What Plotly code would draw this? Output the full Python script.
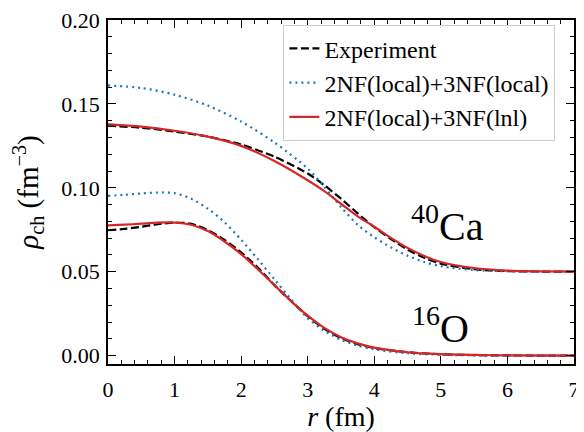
import plotly.graph_objects as go

r_ca = [0.0, 0.5, 1.0, 1.5, 2.0, 2.5, 3.0, 3.25, 3.5, 3.75, 4.0, 4.25, 4.5, 4.75, 5.0, 5.5, 6.0, 6.5, 7.0]
ca_exp = [0.1370, 0.1358, 0.1335, 0.1305, 0.1258, 0.1185, 0.1085, 0.1015, 0.0935, 0.0848, 0.0765, 0.0695, 0.0632, 0.0583, 0.0548, 0.0515, 0.0504, 0.0501, 0.0500]
ca_local = [0.1610, 0.1595, 0.1555, 0.1490, 0.1395, 0.1270, 0.1115, 0.1005, 0.0885, 0.0780, 0.0705, 0.0645, 0.0595, 0.0558, 0.0533, 0.0510, 0.0503, 0.0501, 0.0500]
ca_lnl = [0.1378, 0.1365, 0.1340, 0.1305, 0.1250, 0.1160, 0.1045, 0.0980, 0.0905, 0.0830, 0.0768, 0.0702, 0.0642, 0.0594, 0.0558, 0.0522, 0.0507, 0.0502, 0.0500]

r_o = [0.0, 0.25, 0.5, 0.75, 1.0, 1.25, 1.5, 1.75, 2.0, 2.25, 2.5, 2.75, 3.0, 3.25, 3.5, 3.75, 4.0, 4.5, 5.0, 5.5, 6.0, 7.0]
o_exp = [0.0747, 0.0755, 0.0768, 0.0783, 0.0793, 0.0785, 0.0748, 0.0690, 0.0615, 0.0525, 0.0420, 0.0325, 0.0235, 0.0160, 0.0105, 0.0068, 0.0045, 0.0020, 0.0008, 0.0003, 0.0001, 0.0]
o_local = [0.0952, 0.0958, 0.0966, 0.0972, 0.0968, 0.0935, 0.0875, 0.0795, 0.0690, 0.0575, 0.0455, 0.0335, 0.0222, 0.0148, 0.0095, 0.0060, 0.0037, 0.0014, 0.0005, 0.0002, 0.0001, 0.0]
o_lnl = [0.0776, 0.0780, 0.0786, 0.0792, 0.0793, 0.0780, 0.0742, 0.0680, 0.0605, 0.0515, 0.0420, 0.0325, 0.0238, 0.0165, 0.0110, 0.0073, 0.0048, 0.0020, 0.0009, 0.0004, 0.0001, 0.0]

labels = ["Experiment", "2NF(local)+3NF(local)", "2NF(local)+3NF(lnl)"]
x_ticks = [0, 1, 2, 3, 4, 5, 6, 7]
y_ticks = [0.00, 0.05, 0.10, 0.15, 0.20]
y_tick_text = ["0.00", "0.05", "0.10", "0.15", "0.20"]

colors = ["black", "#1f77b4", "#d62728"]
dashes = ["8px,3.5px", "2px,4px", "solid"]

FONT = "Liberation Serif"

fig = go.Figure()
ca_sets = [ca_exp, ca_local, ca_lnl]
o_sets = [o_exp, o_local, o_lnl]
for i in range(3):
    fig.add_trace(go.Scatter(x=r_ca, y=ca_sets[i], mode="lines", name=labels[i],
                             legendgroup="g%d" % i,
                             line=dict(color=colors[i], width=2.2, dash=dashes[i], shape="spline", smoothing=0.8),
                             showlegend=True, legendrank=i + 1))
    fig.add_trace(go.Scatter(x=r_o, y=o_sets[i], mode="lines", name=labels[i],
                             legendgroup="g%d" % i,
                             line=dict(color=colors[i], width=2.2, dash=dashes[i], shape="spline", smoothing=0.8),
                             showlegend=False))

fig.add_annotation(x=5.10, y=0.0787, xref="x", yref="y", text="<sup>40</sup>Ca", showarrow=False,
                   font=dict(family=FONT, size=40, color="black"))
fig.add_annotation(x=5.00, y=0.0180, xref="x", yref="y", text="<sup>16</sup>O", showarrow=False,
                   font=dict(family=FONT, size=40, color="black"))

axis_common = dict(showline=True, linecolor="black", linewidth=1.6, mirror="allticks",
                   ticks="inside", ticklen=8, tickwidth=1.4, tickcolor="black",
                   showgrid=False, zeroline=False, ticklabeloverflow="allow", automargin=False,
                   tickfont=dict(family=FONT, size=22, color="black"))

fig.update_xaxes(range=[0, 7], tickmode="array", tickvals=x_ticks, ticklabelstandoff=5,
                 minor=dict(dtick=0.2, tick0=0, ticks="inside", ticklen=4, tickwidth=1.2, tickcolor="black", showgrid=False),
                 title=dict(text="<i>r</i> (fm)", font=dict(family=FONT, size=28, color="black"), standoff=11),
                 **axis_common)
fig.update_yaxes(range=[-0.005, 0.2], tickmode="array", tickvals=y_ticks, ticktext=y_tick_text,
                 ticklabelstandoff=2,
                 minor=dict(dtick=0.01, tick0=0, ticks="inside", ticklen=4, tickwidth=1.2, tickcolor="black", showgrid=False),
                 title=dict(text="<i>ρ</i><sub>ch</sub> (fm<sup>−3</sup>)", font=dict(family=FONT, size=29, color="black"), standoff=16),
                 **axis_common)

fig.update_layout(
    width=576, height=424,
    margin=dict(l=100, r=10, t=12, b=68),
    plot_bgcolor="white", paper_bgcolor="white",
    font=dict(family=FONT, color="black"),
    legend=dict(x=0.376, y=0.985, xanchor="left", yanchor="top",
                bgcolor="rgba(255,255,255,0.85)", bordercolor="#cccccc", borderwidth=1.2,
                font=dict(family=FONT, size=24, color="black"), tracegroupgap=0,
                itemwidth=30),
)

fig.write_html("out.html")
